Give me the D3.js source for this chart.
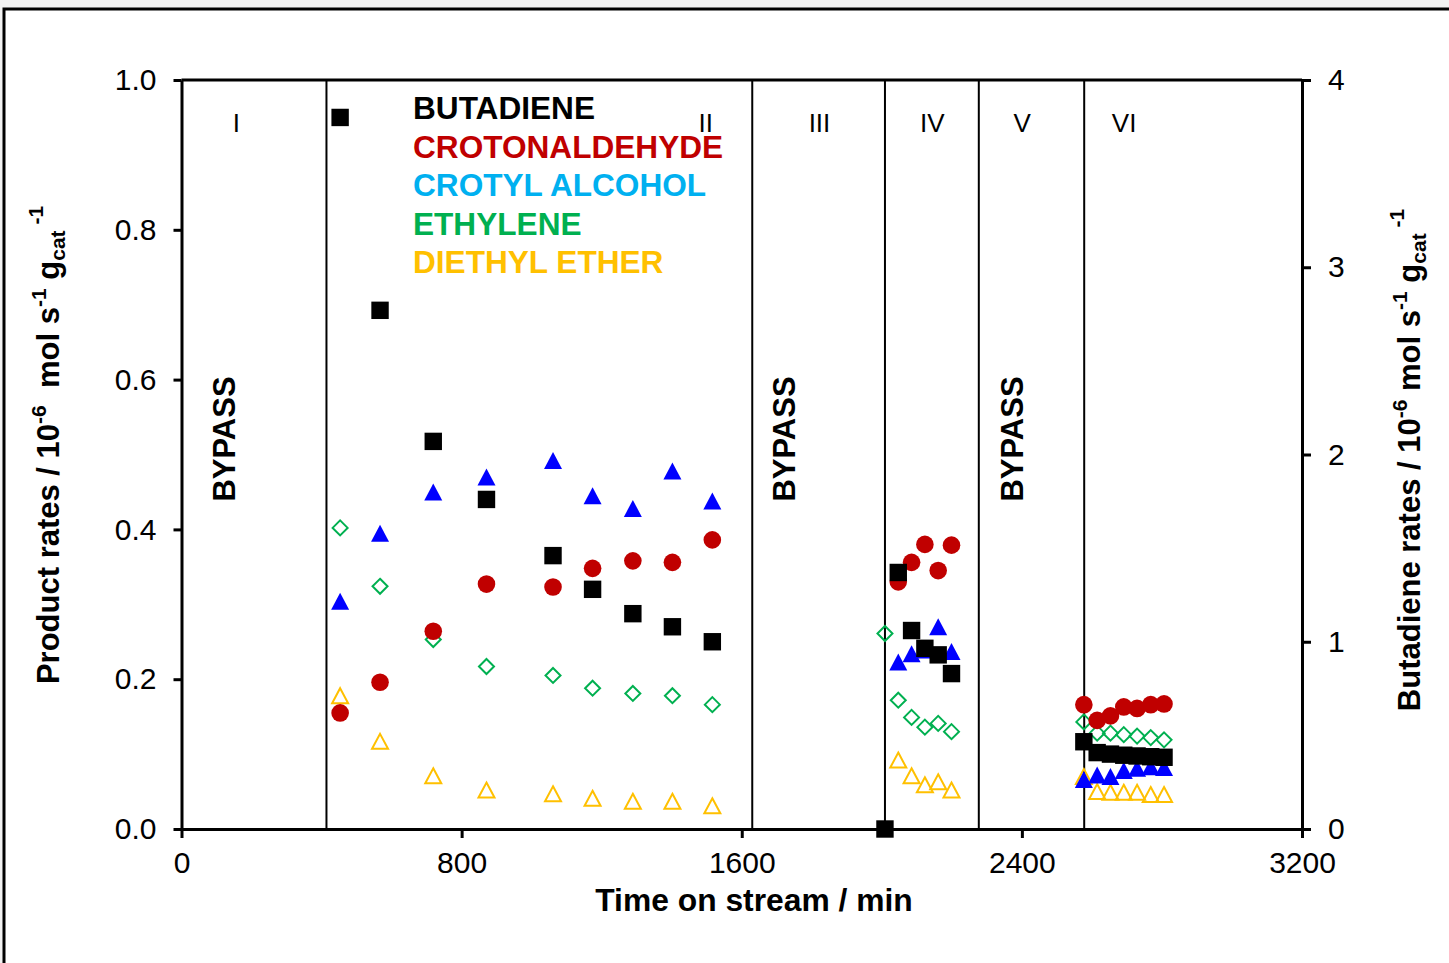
<!DOCTYPE html>
<html>
<head>
<meta charset="utf-8">
<script src="https://cdn.jsdelivr.net/npm/d3@7/dist/d3.min.js"></script>
<style>
  html, body { margin: 0; padding: 0; background: #f2f2f2; }
  svg { display: block; }
  text { font-family: "Liberation Sans", Arial, sans-serif; }
</style>
</head>
<body>
<svg id="chart" width="1449" height="963"></svg>
<script>
// Time on stream (min) for each sampling point
const timePhaseII = [453, 567, 719, 871, 1061, 1174, 1289, 1402, 1516];
const timePhaseIV = [2047, 2085, 2123, 2161, 2199];
const timePhaseVI = [2577, 2615, 2653, 2691, 2729, 2768, 2806];

// Butadiene (right axis, 10^-6 mol s^-1 gcat^-1)
const butadieneTime = [...timePhaseII, 2009, ...timePhaseIV, ...timePhaseVI];
const butadiene = [3.80, 2.77, 2.07, 1.76, 1.46, 1.28, 1.15, 1.08, 1.00,
                   0.00, 1.37, 1.06, 0.965, 0.93, 0.83,
                   0.466, 0.408, 0.40, 0.394, 0.39, 0.386, 0.383];

// Crotonaldehyde (left axis)
const crotonTime = [...timePhaseII, ...timePhaseIV, ...timePhaseVI];
const crotonaldehyde = [0.155, 0.196, 0.264, 0.327, 0.323, 0.348, 0.358, 0.356, 0.386,
                        0.330, 0.356, 0.380, 0.345, 0.379,
                        0.166, 0.145, 0.151, 0.163, 0.161, 0.166, 0.167];

// Crotyl alcohol (left axis)
const crotylTime = [...timePhaseII, ...timePhaseIV, ...timePhaseVI];
const crotylAlcohol = [0.304, 0.395, 0.450, 0.470, 0.492, 0.445, 0.428, 0.478, 0.438,
                       0.223, 0.234, 0.239, 0.270, 0.237,
                       0.066, 0.072, 0.070, 0.078, 0.081, 0.083, 0.082];

// Ethylene (left axis)
const ethyleneTime = [...timePhaseII, 2009, ...timePhaseIV, ...timePhaseVI];
const ethylene = [0.402, 0.324, 0.253, 0.217, 0.205, 0.188, 0.181, 0.178, 0.166,
                  0.261, 0.172, 0.149, 0.136, 0.141, 0.130,
                  0.143, 0.128, 0.128, 0.126, 0.124, 0.122, 0.119];

// Diethyl ether (left axis)
const etherTime = [...timePhaseII, ...timePhaseIV, ...timePhaseVI];
const diethylEther = [0.178, 0.117, 0.071, 0.052, 0.047, 0.041, 0.037, 0.037, 0.031,
                      0.092, 0.071, 0.059, 0.063, 0.052,
                      0.070, 0.050, 0.049, 0.049, 0.049, 0.046, 0.046];

// Phase boundaries, phase labels and bypass periods
const phaseBounds = [414, 1630, 2009, 2277, 2578];
const phaseLabels = ["I", "II", "III", "IV", "V", "VI"];
const phaseLabelTime = [157, 1497, 1822, 2144, 2401, 2692];
const bypassTime = [120, 1722, 2372];

const xTicks = [0, 800, 1600, 2400, 3200];
const yLeftTicks = [0, 0.2, 0.4, 0.6, 0.8, 1.0];
const yRightTicks = [0, 1, 2, 3, 4];

const legendNames = ["BUTADIENE", "CROTONALDEHYDE", "CROTYL ALCOHOL", "ETHYLENE", "DIETHYL ETHER"];
const legendColors = ["#000000", "#C00000", "#00B0F0", "#00B050", "#FFC000"];

const svg = d3.select("#chart");

// white page panel with its black border
svg.append("rect")
  .attr("x", 4).attr("y", 9).attr("width", 1500).attr("height", 1000)
  .attr("fill", "#ffffff").attr("stroke", "#000").attr("stroke-width", 3);

const plotL = 181.5, plotR = 1302, plotT = 80, plotB = 829;
const x = d3.scaleLinear().domain([0, 3200]).range([plotL, plotR]);
const yL = d3.scaleLinear().domain([0, 1]).range([plotB, plotT]);
const yR = d3.scaleLinear().domain([0, 4]).range([plotB, plotT]);

// phase boundary lines
svg.append("g").selectAll("line").data(phaseBounds).join("line")
  .attr("x1", d => x(d)).attr("x2", d => x(d))
  .attr("y1", plotT).attr("y2", plotB)
  .attr("stroke", "#000").attr("stroke-width", 2);

// top frame line of the plot
svg.append("line")
  .attr("x1", plotL).attr("x2", plotR).attr("y1", plotT).attr("y2", plotT)
  .attr("stroke", "#000").attr("stroke-width", 3);

function styleAxis(g) {
  g.select(".domain").attr("stroke-width", 3);
  g.selectAll(".tick line").attr("stroke-width", 3);
  g.selectAll(".tick text").attr("font-size", 30).attr("fill", "#000")
    .attr("font-family", "'Liberation Sans', Arial, sans-serif");
}

svg.append("g").attr("transform", `translate(${plotL},0)`)
  .call(d3.axisLeft(yL).tickValues(yLeftTicks).tickFormat(d3.format(".1f"))
        .tickSize(8).tickSizeOuter(0).tickPadding(17))
  .call(styleAxis);

svg.append("g").attr("transform", `translate(${plotR},0)`)
  .call(d3.axisRight(yR).tickValues(yRightTicks).tickFormat(d3.format("d"))
        .tickSize(9).tickSizeOuter(0).tickPadding(17))
  .call(styleAxis);

svg.append("g").attr("transform", `translate(0,${plotB})`)
  .call(d3.axisBottom(x).tickValues(xTicks).tickFormat(d3.format("d"))
        .tickSize(9).tickSizeOuter(0).tickPadding(14))
  .call(styleAxis);

// phase labels
svg.append("g").selectAll("text").data(phaseLabels).join("text")
  .attr("x", (d, i) => x(phaseLabelTime[i])).attr("y", 132)
  .attr("text-anchor", "middle").attr("font-size", 26).text(d => d);

// bypass labels
svg.append("g").selectAll("text").data(bypassTime).join("text")
  .attr("transform", d => `translate(${x(d) + 11},439) rotate(-90)`)
  .attr("text-anchor", "middle").attr("font-size", 31).attr("font-weight", "bold")
  .text("BYPASS");

// legend text
svg.append("g").selectAll("text").data(legendNames).join("text")
  .attr("x", 413).attr("y", (d, i) => 119 + i * 38.5)
  .attr("font-size", 31.6).attr("font-weight", "bold")
  .attr("fill", (d, i) => legendColors[i]).text(d => d);

// axis titles
svg.append("text").attr("x", 754).attr("y", 911)
  .attr("text-anchor", "middle").attr("font-size", 31.8).attr("font-weight", "bold")
  .text("Time on stream / min");

function unitTitle(sel, lead, gap) {
  sel.append("tspan").text(lead + "10");
  sel.append("tspan").attr("dy", -13).attr("font-size", 21).text("-6");
  sel.append("tspan").attr("dy", 13).text(gap + "mol s");
  sel.append("tspan").attr("dy", -13).attr("font-size", 21).text("-1");
  sel.append("tspan").attr("dy", 13).text(" g");
  sel.append("tspan").attr("dy", 6).attr("font-size", 21).text("cat");
  sel.append("tspan").attr("dy", -22).attr("font-size", 21).text(" -1");
}

const leftTitle = svg.append("text")
  .attr("transform", "translate(59,445) rotate(-90)")
  .attr("text-anchor", "middle").attr("font-size", 31).attr("font-weight", "bold");
unitTitle(leftTitle, "Product rates / ", "\u00a0 ");

const rightTitle = svg.append("text")
  .attr("transform", "translate(1420,460) rotate(-90)")
  .attr("text-anchor", "middle").attr("font-size", 31).attr("font-weight", "bold");
unitTitle(rightTitle, "Butadiene rates / ", " ");

// marker shapes
const tri = (w, h) => `M0,${-h / 2}L${w / 2},${h / 2}L${-w / 2},${h / 2}Z`;
const diamond = r => `M0,${-r}L${r},0L0,${r}L${-r},0Z`;

function pts(times, vals) { return times.map((t, i) => [t, vals[i]]); }

const marks = svg.append("g");

// diethyl ether: open yellow triangles
marks.append("g").selectAll("path").data(pts(etherTime, diethylEther)).join("path")
  .attr("transform", d => `translate(${x(d[0])},${yL(d[1])})`)
  .attr("d", tri(16, 15)).attr("fill", "none").attr("stroke", "#FFC000").attr("stroke-width", 2);

// crotyl alcohol: filled blue triangles
marks.append("g").selectAll("path").data(pts(crotylTime, crotylAlcohol)).join("path")
  .attr("transform", d => `translate(${x(d[0])},${yL(d[1])})`)
  .attr("d", tri(18, 17)).attr("fill", "#0000FF");

// ethylene: open green diamonds
marks.append("g").selectAll("path").data(pts(ethyleneTime, ethylene)).join("path")
  .attr("transform", d => `translate(${x(d[0])},${yL(d[1])})`)
  .attr("d", diamond(7.5)).attr("fill", "none").attr("stroke", "#00B050").attr("stroke-width", 2);

// crotonaldehyde: red circles
marks.append("g").selectAll("circle").data(pts(crotonTime, crotonaldehyde)).join("circle")
  .attr("cx", d => x(d[0])).attr("cy", d => yL(d[1])).attr("r", 8.8)
  .attr("fill", "#C00000");

// butadiene: black squares on the right axis
marks.append("g").selectAll("rect").data(pts(butadieneTime, butadiene)).join("rect")
  .attr("x", d => x(d[0]) - 8.7).attr("y", d => yR(d[1]) - 8.7)
  .attr("width", 17.4).attr("height", 17.4).attr("fill", "#000");
</script>
</body>
</html>
